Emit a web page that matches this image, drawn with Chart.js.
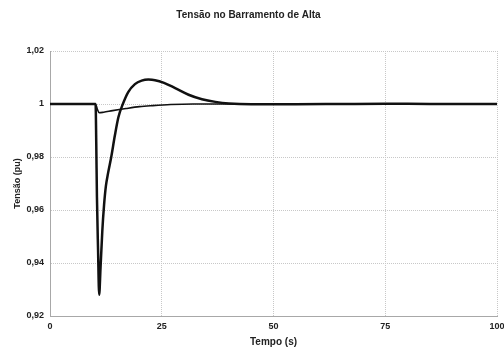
<!DOCTYPE html>
<html>
<head>
<meta charset="utf-8">
<script src="https://cdn.jsdelivr.net/npm/chart.js@4.4.0/dist/chart.umd.min.js"></script>
<style>
    html, body { margin: 0; padding: 0; background: #fff; }
    #wrap { width: 504px; height: 349px; }
</style>
</head>
<body>
<div id="wrap"><canvas id="tensaoChart" width="504" height="349"></canvas></div>
<script>
// Tempo (s) e tensão (pu) - curva com afundamento grande
let tempoA = [0, 10.2, 10.35, 10.5, 10.75, 11.0, 11.3, 11.7, 12.1, 12.5, 13.0, 13.7, 14.5, 15.3, 16.3, 17.5, 19, 20.5, 22, 23.5, 25.5, 28, 31, 34, 37, 40, 45, 55, 65, 75, 85, 100];
let tensaoA = [1, 1, 0.985, 0.965, 0.945, 0.928, 0.938, 0.952, 0.962, 0.969, 0.974, 0.98, 0.988, 0.995, 1.0, 1.0045, 1.0075, 1.0088, 1.0092, 1.009, 1.008, 1.006, 1.0035, 1.0018, 1.0008, 1.0002, 0.9999, 0.9999, 1.0, 1.0001, 1.0, 1.0];

// curva com afundamento pequeno
let tempoB = [0, 10.2, 10.6, 11.0, 12, 14, 17, 20, 23, 27, 32, 100];
let tensaoB = [1, 1, 0.998, 0.9967, 0.9969, 0.9975, 0.9983, 0.999, 0.9994, 0.9998, 1.0, 1.0];

let ticksX = [0, 25, 50, 75, 100];
let ticksY = [0.92, 0.94, 0.96, 0.98, 1.0, 1.02];

function toPoints(xs, ys) {
    return xs.map((x, i) => ({ x: x, y: ys[i] }));
}

// formata com vírgula decimal: 0.98 -> "0,98", 1 -> "1"
function fmt(v) {
    return String(parseFloat(v.toFixed(2))).replace('.', ',');
}

let fontFam = '"Liberation Sans", Arial, sans-serif';
let textColor = '#222';
let gridColor = '#c8c8c8';

let ctx = document.getElementById('tensaoChart').getContext('2d');
let chart = new Chart(ctx, {
    type: 'line',
    data: {
        datasets: [{
            data: toPoints(tempoA, tensaoA),
            borderColor: '#111',
            borderWidth: 2.5,
            pointRadius: 0,
            cubicInterpolationMode: 'monotone',
            fill: false
        }, {
            data: toPoints(tempoB, tensaoB),
            borderColor: '#111',
            borderWidth: 1.6,
            pointRadius: 0,
            cubicInterpolationMode: 'monotone',
            fill: false
        }]
    },
    options: {
        responsive: false,
        animation: false,
        layout: { padding: { left: 0, right: 7, top: 0, bottom: 0 } },
        plugins: {
            legend: { display: false },
            tooltip: { enabled: false },
            title: {
                display: true,
                text: 'Tensão no Barramento de Alta',
                color: textColor,
                font: { family: fontFam, size: 10, weight: 'bold', lineHeight: 1.2 },
                padding: { top: 9, bottom: 30 }
            }
        },
        scales: {
            x: {
                type: 'linear',
                min: 0,
                max: 100,
                afterBuildTicks: function(scale) {
                    scale.ticks = ticksX.map(v => ({ value: v }));
                },
                afterFit: function(scale) {
                    scale.height = 33;
                    scale.paddingRight = 0;
                    scale.paddingLeft = 0;
                },
                ticks: {
                    color: textColor,
                    padding: 5,
                    maxRotation: 0,
                    font: { family: fontFam, size: 9, weight: 'bold' },
                    callback: v => String(v)
                },
                grid: {
                    color: gridColor,
                    drawTicks: false
                },
                // no Chart.js v4 o "dash" da borda vale para as linhas de grade
                border: { display: true, color: '#a8a8a8', width: 1, dash: [1, 1] },
                title: {
                    display: true,
                    text: 'Tempo (s)',
                    color: textColor,
                    font: { family: fontFam, size: 10, weight: 'bold', lineHeight: 1.2 },
                    padding: { top: 0, bottom: 1 }
                }
            },
            y: {
                min: 0.92,
                max: 1.02,
                afterBuildTicks: function(scale) {
                    scale.ticks = ticksY.map(v => ({ value: v }));
                },
                afterFit: function(scale) {
                    scale.width = 50;
                },
                ticks: {
                    color: textColor,
                    padding: 6,
                    font: { family: fontFam, size: 9, weight: 'bold' },
                    callback: v => fmt(v)
                },
                grid: {
                    color: gridColor,
                    drawTicks: false
                },
                border: { display: true, color: '#a8a8a8', width: 1, dash: [1, 1] },
                title: {
                    display: true,
                    text: 'Tensão (pu)',
                    color: textColor,
                    font: { family: fontFam, size: 9, weight: 'bold', lineHeight: 1.2 },
                    padding: { top: 12, bottom: 0 }
                }
            }
        }
    }
});
</script>
</body>
</html>
